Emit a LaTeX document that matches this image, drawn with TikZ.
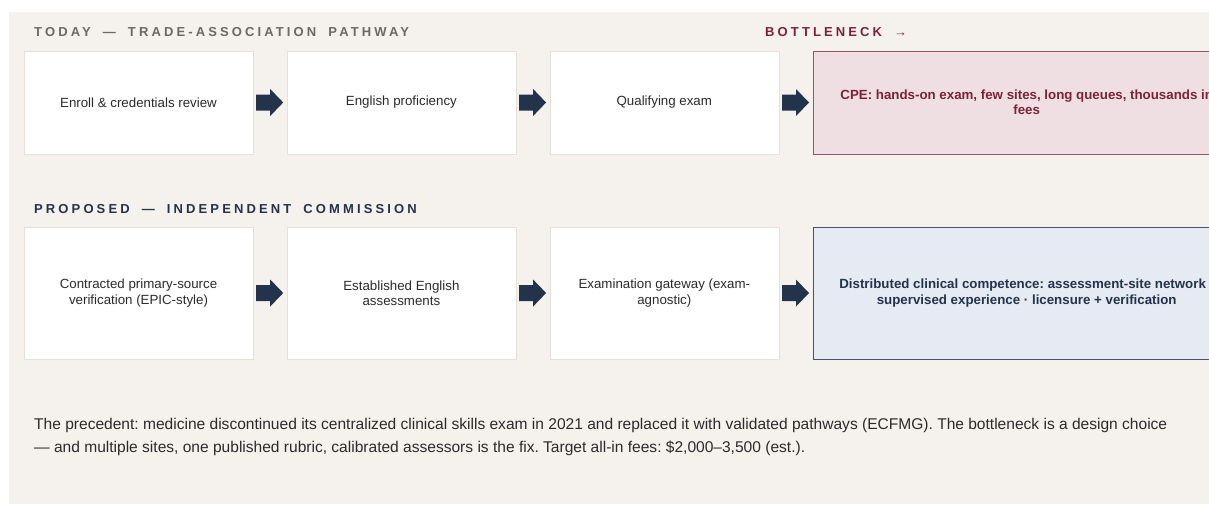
\documentclass[tikz,border=0pt]{standalone}
\usepackage{fontspec}
\setmainfont{Liberation Sans}
\newfontfamily\capsfont[LetterSpace=24,WordSpace=1.8]{Liberation Sans}
\usetikzlibrary{positioning,calc}
\frenchspacing

\definecolor{paper}{HTML}{F5F2ED}
\definecolor{boxline}{HTML}{E6E0D8}
\definecolor{ink}{HTML}{2B2B2B}
\definecolor{greyhead}{HTML}{6B6966}
\definecolor{wine}{HTML}{7A2338}
\definecolor{winefill}{HTML}{EFDFE3}
\definecolor{wineline}{HTML}{9A5569}
\definecolor{navy}{HTML}{22334B}
\definecolor{navyfill}{HTML}{E6EBF3}
\definecolor{navyline}{HTML}{47536A}

\begin{document}
\begin{tikzpicture}[x=1pt, y=-1pt,
    stepbox/.style={draw=boxline, fill=white, minimum width=229pt, inner sep=0pt,
      align=center, text=ink, font=\fontsize{13.3}{15.3}\selectfont},
    endbox/.style={stepbox, minimum width=428pt, font=\fontsize{13.3}{15.3}\selectfont\bfseries},
    heading/.style={anchor=base west, inner sep=0pt, font=\capsfont\fontsize{13}{13}\selectfont\bfseries}]
    \clip (0,0) rectangle (1209,504);
    \fill[paper] (9,12) rectangle (1209,504);

    % today
    \node[heading, text=greyhead] (todayhd) at (34,36.5) {TODAY — TRADE-ASSOCIATION PATHWAY};
    \node[heading, text=wine] (bneckhd) at (765,36.5) {BOTTLENECK →};
    \node[stepbox, minimum height=103pt] (t1) at (138.5,102.5) {Enroll \& credentials review};
    \node[stepbox, minimum height=103pt, right=33.5pt of t1] (t2) {English proficiency};
    \node[stepbox, minimum height=103pt, right=33.5pt of t2] (t3) {Qualifying exam};
    \node[endbox, minimum height=103pt, right=33.5pt of t3, draw=wineline, fill=winefill, text=wine] (t4)
        {CPE: hands-on exam, few sites, long queues, thousands in\\fees};

    % proposed
    \node[heading, text=navy] (prophd) at (34,213) {PROPOSED — INDEPENDENT COMMISSION};
    \node[stepbox, minimum height=132pt] (p1) at (138.5,293) {Contracted primary-source\\verification (EPIC-style)};
    \node[stepbox, minimum height=132pt, right=33.5pt of p1] (p2) {Established English\\assessments};
    \node[stepbox, minimum height=132pt, right=33.5pt of p2] (p3) {Examination gateway (exam-\\agnostic)};
    \node[endbox, minimum height=132pt, right=33.5pt of p3, draw=navyline, fill=navyfill, text=navy] (p4)
        {Distributed clinical competence: assessment-site network ·\\supervised experience · licensure + verification};

    \foreach \a/\b in {t1/t2,t2/t3,t3/t4,p1/p2,p2/p3,p3/p4}
        \fill[navy] ($(\a.east)!.5!(\b.west)$) +(-13.75,-8) -- +(0.25,-8) -- +(0.25,-13.5)
            -- +(13.25,0) -- +(0.25,13.5) -- +(0.25,8) -- +(-13.75,8) -- cycle;

    \node[anchor=north west, inner sep=0pt, align=left, text=ink, font=\fontsize{15.55}{23.5}\selectfont] (note) at (34,418)
        {The precedent: medicine discontinued its centralized clinical skills exam in 2021 and replaced it with validated pathways (ECFMG). The bottleneck is a design choice\\
         — and multiple sites, one published rubric, calibrated assessors is the fix. Target all-in fees: \$2,000–3,500 (est.).};
\end{tikzpicture}
\end{document}
